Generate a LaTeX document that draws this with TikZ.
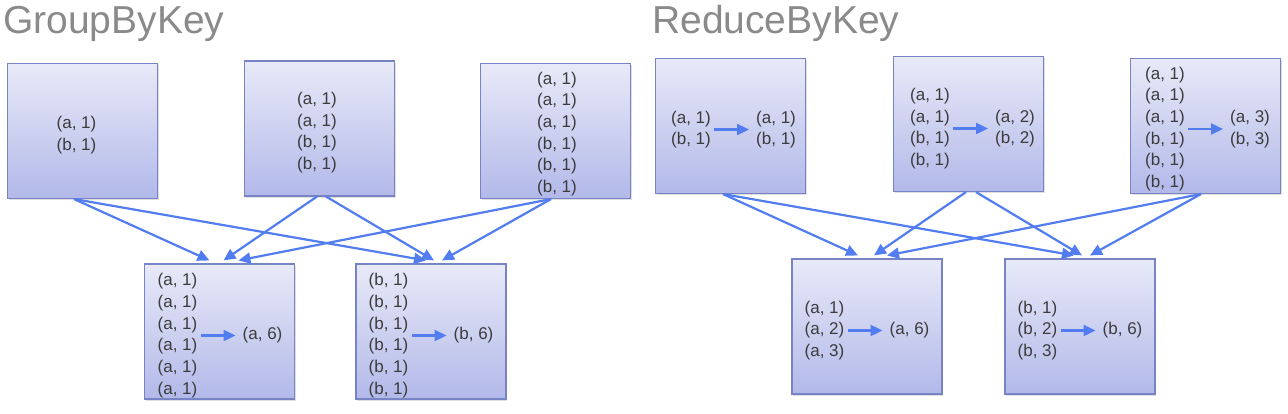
\documentclass[tikz,border=0pt]{standalone}
\usepackage{fontspec}
\setmainfont{Liberation Sans}
\usepackage{tikz}
\usetikzlibrary{positioning}
\usetikzlibrary{arrows.meta}
\usetikzlibrary{shadows}

\definecolor{boxtop}{RGB}{232,234,248}
\definecolor{boxbottom}{RGB}{178,185,233}
\definecolor{boxline}{RGB}{120,131,198}
\definecolor{flowblue}{RGB}{82,125,240}
\definecolor{titlegray}{RGB}{138,138,138}
\definecolor{pairgray}{RGB}{60,60,60}

\begin{document}
\begin{tikzpicture}[
    x=1pt, y=-1pt,
    part/.style={rectangle, draw=boxline, line width=1.1pt, top color=boxtop, bottom color=boxbottom,
        minimum width=150pt, minimum height=135pt, inner sep=0pt,
        drop shadow={shadow xshift=1pt, shadow yshift=-1.5pt, opacity=0.25}},
    pairs/.style={inner sep=2pt, text=pairgray, font=\fontsize{17pt}{21.7pt}\selectfont, align=left},
    title/.style={inner sep=0pt, anchor=base west, text=titlegray, font=\fontsize{39pt}{44pt}\selectfont},
    flow/.style={-{Triangle[length=12pt,width=11pt]}, draw=flowblue, line width=2.2pt},
]
\useasboundingbox (0,0) rectangle (1288,413);

% titles
\node[title] (gtitle) at (3,33) {GroupByKey};
\node[title] (rtitle) at (652,33) {ReduceByKey};

% partitions
\foreach \name/\x/\y in {g1/82.5/131, g2/319.5/128.5, g3/555.5/131, ga/219.5/331.5, gb/431/331.5,
                         r1/730.5/126, r2/968.5/124, r3/1205.5/126, ra/867/326.5, rb/1080/326.5} {
    \node[part] (\name) at (\x,\y) {};
}

% shuffle
\foreach \src/\sx/\dst/\dx in {g1/-8.5/ga/-10, g1/-8.5/gb/-5, g2/-2.5/ga/4, g2/6.5/gb/3, g3/-4.5/ga/19, g3/-4.5/gb/11,
                               r1/-7.5/ra/-9, r1/-7.5/rb/-6, r2/-2.5/ra/7, r2/7.5/rb/2, r3/-4.5/ra/20, r3/-4.5/rb/10} {
    \draw[flow] ([xshift=\sx pt]\src.south) -- ([xshift=\dx pt, yshift=3pt]\dst.north);
}

% GroupByKey contents
\node[pairs, align=center] (g1-in) at ([xshift=-6pt, yshift=-4pt]g1.center) {(a, 1)\\(b, 1)};
\node[pairs, align=center] (g2-in) at ([xshift=-2.5pt, yshift=-4pt]g2.center) {(a, 1)\\(a, 1)\\(b, 1)\\(b, 1)};
\node[pairs, align=center] (g3-in) at ([xshift=1.5pt, yshift=-3pt]g3.center) {(a, 1)\\(a, 1)\\(a, 1)\\(b, 1)\\(b, 1)\\(b, 1)};

\node[pairs, anchor=west] (ga-in) at ([xshift=11.5pt, yshift=-4pt]ga.west) {(a, 1)\\(a, 1)\\(a, 1)\\(a, 1)\\(a, 1)\\(a, 1)};
\node[pairs, right=41pt of ga-in] (ga-out) {(a, 6)};
\draw[flow, shorten <=1pt, shorten >=5pt] (ga-in) -- (ga-out);

\node[pairs, anchor=west] (gb-in) at ([xshift=11pt, yshift=-4pt]gb.west) {(b, 1)\\(b, 1)\\(b, 1)\\(b, 1)\\(b, 1)\\(b, 1)};
\node[pairs, right=41pt of gb-in] (gb-out) {(b, 6)};
\draw[flow, shorten <=1pt, shorten >=5pt] (gb-in) -- (gb-out);

% ReduceByKey contents
\node[pairs, anchor=west] (r1-in) at ([xshift=14pt, yshift=-3.5pt]r1.west) {(a, 1)\\(b, 1)};
\node[pairs, right=41pt of r1-in] (r1-out) {(a, 1)\\(b, 1)};
\draw[flow, shorten <=1pt, shorten >=5pt] (r1-in) -- (r1-out);

\node[pairs, anchor=west] (r2-in) at ([xshift=15pt, yshift=-4.5pt]r2.west) {(a, 1)\\(a, 1)\\(b, 1)\\(b, 1)};
\node[pairs, right=41pt of r2-in] (r2-out) {(a, 2)\\(b, 2)};
\draw[flow, shorten <=1pt, shorten >=5pt] (r2-in) -- (r2-out);

\node[pairs, anchor=west] (r3-in) at ([xshift=13pt, yshift=-3pt]r3.west) {(a, 1)\\(a, 1)\\(a, 1)\\(b, 1)\\(b, 1)\\(b, 1)};
\node[pairs, right=41pt of r3-in] (r3-out) {(a, 3)\\(b, 3)};
\draw[flow, shorten <=1pt, shorten >=5pt] (r3-in) -- (r3-out);

\node[pairs, anchor=west] (ra-in) at ([xshift=11pt, yshift=-4pt]ra.west) {(a, 1)\\(a, 2)\\(a, 3)};
\node[pairs, right=41pt of ra-in] (ra-out) {(a, 6)};
\draw[flow, shorten <=1pt, shorten >=5pt] (ra-in) -- (ra-out);

\node[pairs, anchor=west] (rb-in) at ([xshift=11pt, yshift=-4pt]rb.west) {(b, 1)\\(b, 2)\\(b, 3)};
\node[pairs, right=41pt of rb-in] (rb-out) {(b, 6)};
\draw[flow, shorten <=1pt, shorten >=5pt] (rb-in) -- (rb-out);
\end{tikzpicture}
\end{document}
